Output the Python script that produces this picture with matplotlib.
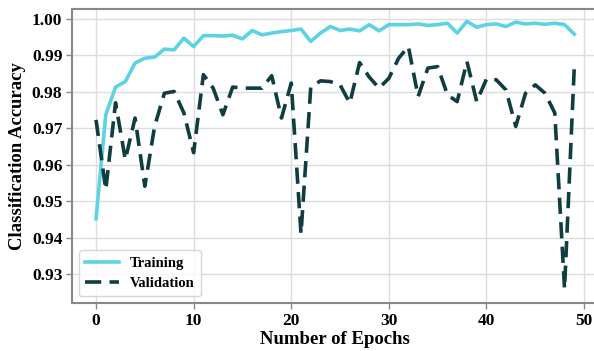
import matplotlib
matplotlib.use("Agg")
import matplotlib.pyplot as plt

epochs = list(range(50))
training = [0.9452, 0.9737, 0.9813, 0.9828, 0.9879, 0.9892, 0.9895, 0.9917, 0.9915, 0.9947,
            0.9924, 0.9954, 0.9954, 0.9953, 0.9955, 0.9945, 0.9968, 0.9956, 0.9961, 0.9965,
            0.9968, 0.9972, 0.9938, 0.9961, 0.9979, 0.9968, 0.9972, 0.9967, 0.9984, 0.9967,
            0.9984, 0.9984, 0.9984, 0.9986, 0.9982, 0.9984, 0.9988, 0.9961, 0.9993, 0.9977,
            0.9984, 0.9986, 0.9979, 0.9991, 0.9986, 0.9988, 0.9985, 0.9988, 0.9984, 0.9958]
validation = [0.9723, 0.9532, 0.9770, 0.9614, 0.9728, 0.9541, 0.9705, 0.9796, 0.9801, 0.9742,
              0.9633, 0.9847, 0.9810, 0.9737, 0.9813, 0.9810, 0.9810, 0.9810, 0.9844, 0.9728,
              0.9824, 0.9411, 0.9813, 0.9830, 0.9828, 0.9819, 0.9769, 0.9880, 0.9840, 0.9810,
              0.9837, 0.9892, 0.9924, 0.9787, 0.9865, 0.9869, 0.9792, 0.9773, 0.9883, 0.9773,
              0.9835, 0.9833, 0.9805, 0.9705, 0.9796, 0.9819, 0.9796, 0.9742, 0.9260, 0.9869]
xticks = [0, 10, 20, 30, 40, 50]
yticks = [0.93, 0.94, 0.95, 0.96, 0.97, 0.98, 0.99, 1.00]

plt.rcParams['font.family'] = ['Liberation Serif', 'DejaVu Serif']
plt.rcParams['font.weight'] = 'bold'

fig = plt.figure(figsize=(5.94, 3.51), dpi=100)
ax = fig.add_axes([0.1214, 0.1368, 0.8857, 0.8376])

ax.plot(epochs, training, color='#5cd3e3', lw=2.6, label='Training')
ax.plot(epochs, validation, color='#0f3d40', lw=2.6, ls=(0, (4.5, 2.3)), label='Validation')

ax.set_xlim(-2.45, 51.45)
ax.set_ylim(0.9221, 1.0027)
ax.set_xticks(xticks)
ax.set_yticks(yticks)
ax.set_yticklabels([f"{v:.2f}" for v in yticks])
ax.tick_params(labelsize=12.5, length=4, width=1, color='#888888', pad=3)
for lab in ax.get_xticklabels() + ax.get_yticklabels():
    lab.set_fontweight('bold')

ax.grid(True, color='#dddddd', lw=1)
ax.set_axisbelow(True)
for side in ['left', 'bottom', 'top', 'right']:
    ax.spines[side].set_color('#888888')
    ax.spines[side].set_linewidth(1.5)

ax.set_xlabel('Number of Epochs', fontsize=13.5, fontweight='bold', labelpad=2)
ax.set_ylabel('Classification Accuracy', fontsize=13.5, fontweight='bold', labelpad=4)

leg = ax.legend(loc='lower left', fontsize=10.5, frameon=True, fancybox=True,
                edgecolor='#cccccc', handlelength=2.3, handletextpad=0.75,
                borderpad=0.45, borderaxespad=0.45, labelspacing=0.45)
for t in leg.get_texts():
    t.set_fontweight('bold')

fig.savefig('out.png', dpi=100)
